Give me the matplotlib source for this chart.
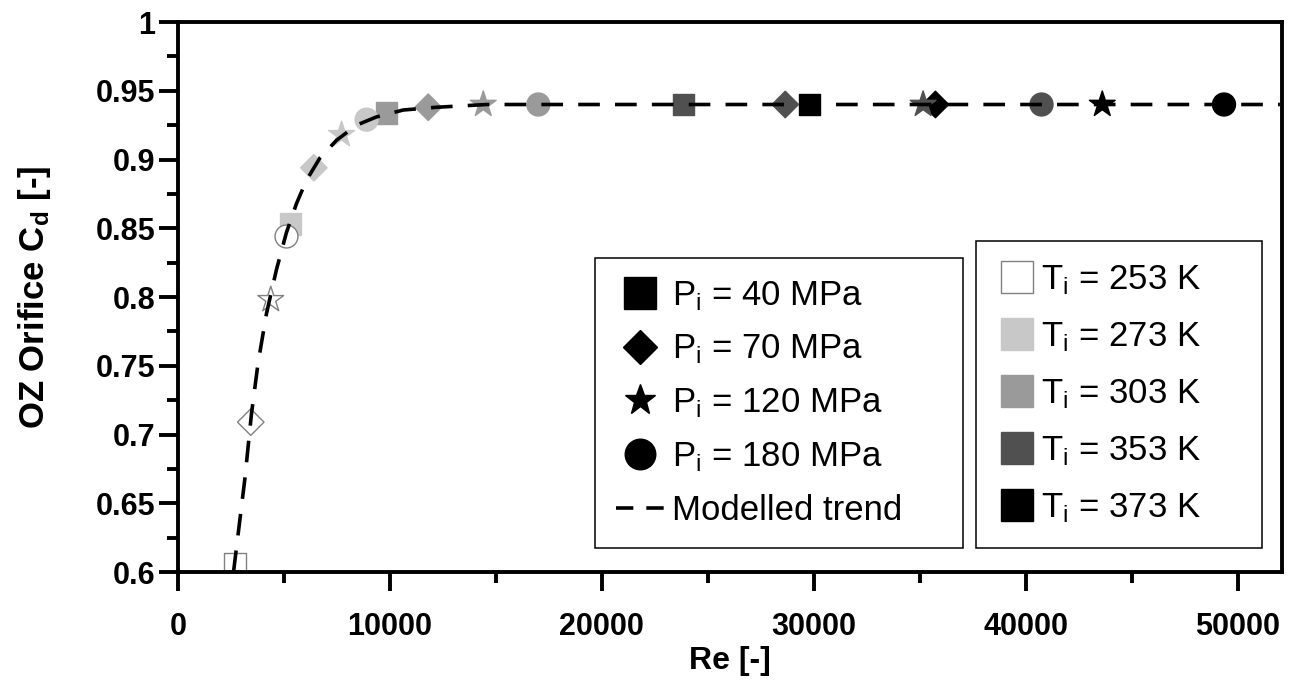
import matplotlib
matplotlib.use("Agg")
import matplotlib.pyplot as plt
from matplotlib.lines import Line2D
from matplotlib.ticker import MultipleLocator, FuncFormatter

plt.rcParams['font.family'] = ['Liberation Sans', 'DejaVu Sans']
plt.rcParams['font.weight'] = 'bold'
plt.rcParams['mathtext.default'] = 'regular'

# Injection pressures [MPa] and inlet temperatures [K]
pressures = ["40", "70", "120", "180"]
temperatures = ["253", "273", "303", "353", "373"]

# Re and Cd per pressure, ordered by temperature (253, 273, 303, 353, 373 K)
re_40 = [2680, 5309, 9844, 23854, 29792]
cd_40 = [0.606, 0.853, 0.934, 0.940, 0.940]
re_70 = [3434, 6410, 11809, 28658, 35744]
cd_70 = [0.709, 0.894, 0.938, 0.940, 0.940]
re_120 = [4379, 7718, 14407, 35163, 43618]
cd_120 = [0.798, 0.918, 0.940, 0.940, 0.940]
re_180 = [5120, 8900, 17005, 40751, 49362]
cd_180 = [0.844, 0.929, 0.940, 0.940, 0.940]

# modelled trend
trend_re = [2620, 3150, 3467, 3779, 4176, 4648, 5120, 5593, 6065, 6693,
            7482, 8427, 9372, 10630, 12200, 14570, 52000]
trend_cd = [0.600, 0.667, 0.715, 0.752, 0.788, 0.820, 0.847, 0.868, 0.885,
            0.901, 0.914, 0.925, 0.931, 0.936, 0.938, 0.940, 0.940]

# styles
markers = ['s', 'D', '*', 'o']
data_ms = [15.5, 13.5, 19.5, 16.5]
legend_ms = [23, 17, 23, 22]
t_colors = ['white', '#c8c8c8', '#9a9a9a', '#505050', 'black']
t_edges = ['#808080', '#c8c8c8', '#9a9a9a', '#505050', 'black']
trend_dashes = (6, 4.2)


def main():
    fig, ax = plt.subplots(figsize=(13.03, 6.92), dpi=100)
    fig.subplots_adjust(left=0.1366, right=0.9839, bottom=0.1734, top=0.9682)

    series = [(re_40, cd_40), (re_70, cd_70), (re_120, cd_120), (re_180, cd_180)]
    for (re, cd), m, ms in zip(series, markers, data_ms):
        ax.scatter(re, cd, marker=m, s=ms ** 2, c=t_colors,
                   edgecolors=t_edges, linewidths=1.0, zorder=2)

    ax.plot(trend_re, trend_cd, color='black', lw=2.6, dashes=trend_dashes,
            dash_capstyle='butt', zorder=3)

    ax.set_xlim(0, 52100)
    ax.set_ylim(0.6, 1.0)
    ax.xaxis.set_major_locator(MultipleLocator(10000))
    ax.xaxis.set_minor_locator(MultipleLocator(5000))
    ax.yaxis.set_major_locator(MultipleLocator(0.05))
    ax.yaxis.set_minor_locator(MultipleLocator(0.025))
    fmt = FuncFormatter(lambda v, p: f"{v:g}")
    ax.xaxis.set_major_formatter(fmt)
    ax.yaxis.set_major_formatter(fmt)

    ax.tick_params(which='major', direction='out', length=13.5, width=2.8,
                   labelsize=22)
    ax.tick_params(axis='x', which='major', pad=15)
    ax.tick_params(axis='y', which='major', pad=3)
    ax.tick_params(which='minor', direction='out', length=8, width=2.8)
    for sp in ax.spines.values():
        sp.set_linewidth(2.8)

    ax.set_xlabel("Re [-]", fontsize=23, fontweight='bold', labelpad=3)
    ax.set_ylabel("OZ Orifice C$_d$ [-]", fontsize=25, fontweight='bold')
    ax.yaxis.set_label_coords(-0.113, 0.5)

    # pressure legend (marker shapes)
    p_handles = [Line2D([], [], ls='none', marker=m, color='black', ms=s)
                 for m, s in zip(markers, legend_ms)]
    p_handles.append(Line2D([], [], color='black', lw=2.6,
                            dashes=(4.8, 3.6), dash_capstyle='butt'))
    p_labels = [f"P$_i$ = {p} MPa" for p in pressures] + ["Modelled trend"]
    leg1 = ax.legend(p_handles, p_labels, loc='lower left',
                     bbox_to_anchor=(0.378, 0.0436, 0.333, 0.5), mode='expand',
                     prop={'size': 25, 'weight': 'normal'}, fancybox=False,
                     edgecolor='black', framealpha=1, handlelength=1.4,
                     handletextpad=0.2, labelspacing=0.58, borderpad=0.6,
                     borderaxespad=0)
    leg1.get_frame().set_linewidth(1.1)
    ax.add_artist(leg1)

    # temperature legend (grey levels)
    t_handles = [Line2D([], [], ls='none', marker='s', ms=23, color=c,
                        markeredgecolor=e, markeredgewidth=1.0)
                 for c, e in zip(t_colors, t_edges)]
    t_labels = [f"T$_i$ = {t} K" for t in temperatures]
    leg2 = ax.legend(t_handles, t_labels, loc='lower left',
                     bbox_to_anchor=(0.723, 0.0436, 0.259, 0.5), mode='expand',
                     prop={'size': 25, 'weight': 'normal'}, fancybox=False,
                     edgecolor='black', framealpha=1, handlelength=1.04,
                     handletextpad=0.17, labelspacing=0.67, borderpad=0.66,
                     borderaxespad=0)
    leg2.get_frame().set_linewidth(1.1)

    fig.savefig("out.png", dpi=100)


if __name__ == '__main__':
    main()
